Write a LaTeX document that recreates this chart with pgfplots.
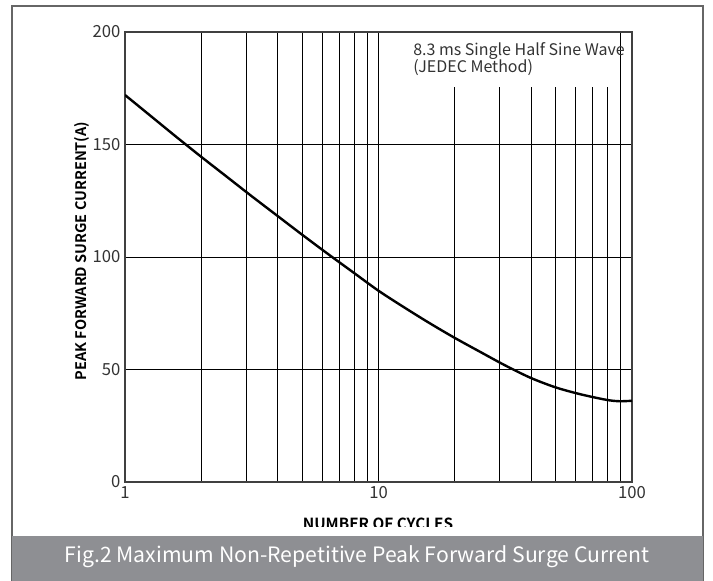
\documentclass[border=0pt]{standalone}
\usepackage{pgfplots}
\pgfplotsset{compat=1.18}
\usepackage{fontspec}
\setmainfont{Noto Sans CJK SC}[BoldFont={Noto Sans CJK SC Bold}]
\definecolor{capgrey}{HTML}{8E8F93}
\definecolor{ticktext}{HTML}{333333}

\pgfplotstableread{
x y
1 172
1.259 162.8
1.585 153.6
1.995 144.6
2.512 135.8
3.162 127
3.981 118.4
5.012 109.8
6.310 101.4
7.943 93.2
10 85
12.59 77.7
15.85 70.7
19.95 64.1
25.12 57.9
31.62 51.8
39.81 46.3
50.12 42
63.10 38.9
79.43 36.5
89.13 35.9
100 36.1
}\surge

\begin{document}
\begin{tikzpicture}
\useasboundingbox (0,0) rectangle (534.75pt,435.75pt);
\draw[draw=black!60, line width=1pt] (9pt,0.4pt) rectangle (527.25pt,431.25pt);
\begin{axis}[
    at={(93.75pt,74.25pt)}, anchor=south west,
    scale only axis,
    width=380.25pt, height=337.5pt,
    xmode=log, xmin=1, xmax=100,
    ymin=0, ymax=200,
    xtick={1,10,100}, xticklabels={1,10,100},
    ytick={0,50,100,150,200},
    grid=both,
    major grid style={black, line width=0.6pt},
    minor grid style={black, line width=0.6pt},
    tick style={draw=none},
    axis line style={black!75, line width=1.1pt},
    ticklabel style={font=\fontsize{12.5}{14}\selectfont, text=ticktext},
    /pgf/number format/assume math mode=true,
]
\addplot[black, line width=1.8pt, smooth] table[x=x, y=y] {\surge};
\end{axis}
% annotation box
\fill[white] (307.5pt,370.5pt) rectangle (465pt,411pt);
\node[anchor=base west, inner sep=0pt, font=\fontsize{12}{14}\selectfont, text=ticktext] at (309.75pt,393.75pt) {8.3 ms Single Half Sine Wave};
\node[anchor=base west, inner sep=0pt, font=\fontsize{12}{14}\selectfont, text=ticktext] at (309.75pt,381pt) {(JEDEC Method)};
% axis labels
\node[rotate=90, font=\bfseries\fontsize{10.9}{12}\selectfont] at (61.5pt,247.5pt) {PEAK FORWARD SURGE CURRENT(A)};
\node[anchor=base, inner sep=0pt, font=\bfseries\fontsize{11.5}{13}\selectfont] at (283.5pt,38.25pt) {NUMBER OF CYCLES};
\fill[white] (9.6pt,33.75pt) rectangle (526.6pt,40.5pt);
% caption bar
\fill[capgrey] (9pt,0) rectangle (527.25pt,33.75pt);
\node[anchor=base, inner sep=0pt, text=white, font=\fontsize{15.9}{18}\selectfont] at (267.75pt,13.5pt) {Fig.2 Maximum Non-Repetitive Peak Forward Surge Current};
\end{tikzpicture}
\end{document}
